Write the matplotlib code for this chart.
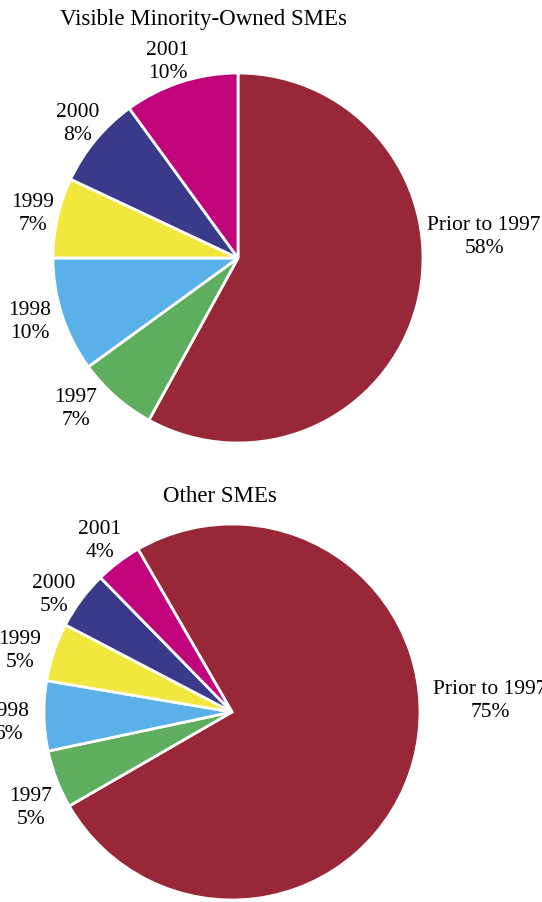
import matplotlib
matplotlib.use("Agg")
import matplotlib.pyplot as plt

plt.rcParams['font.family'] = ['Liberation Serif', 'DejaVu Serif']

# data
categories = ["Prior to 1997", "1997", "1998", "1999", "2000", "2001"]
minority_pct = [58, 7, 10, 7, 8, 10]
other_pct = [75, 5, 6, 5, 5, 4]
colors = ["#982837", "#5FAD5E", "#5AB0E8", "#F2E73C", "#3B3A8A", "#C1037C"]

W, H = 542, 902
fig = plt.figure(figsize=(W / 100, H / 100), dpi=100)


def px_axes(cx, cy, r):
    return fig.add_axes([(cx - r) / W, 1 - (cy + r) / H, 2 * r / W, 2 * r / H])


def draw_pie(cx, cy, r, values, start, title, title_xy, label_xy):
    ax = px_axes(cx, cy, r)
    ax.pie(values, colors=colors, startangle=start, counterclock=False, radius=1,
           wedgeprops=dict(edgecolor="white", linewidth=2))
    ax.set_xlim(-1, 1)
    ax.set_ylim(-1, 1)
    ax.set_aspect("equal")
    ax.axis("off")
    fig.text(title_xy[0] / W, 1 - title_xy[1] / H, title, ha="center", va="center", fontsize=16.5)
    for cat, val, (x, y) in zip(categories, values, label_xy):
        fig.text(x / W, 1 - y / H, f"{cat}\n{val}%", ha="center", va="center",
                 fontsize=15.5, linespacing=1.25)


# label positions (pixel centres)
top_labels = [(484, 237), (76, 409), (30, 322), (33, 214), (78, 124), (168, 62)]
bot_labels = [(490, 701), (31, 808), (8, 723), (20, 651), (54, 595), (100, 541)]

draw_pie(238, 258, 185, minority_pct, 90, "Visible Minority-Owned SMEs", (203, 20), top_labels)
draw_pie(232, 712, 188, other_pct, 120, "Other SMEs", (220, 497), bot_labels)

fig.savefig("out.png", dpi=100)
